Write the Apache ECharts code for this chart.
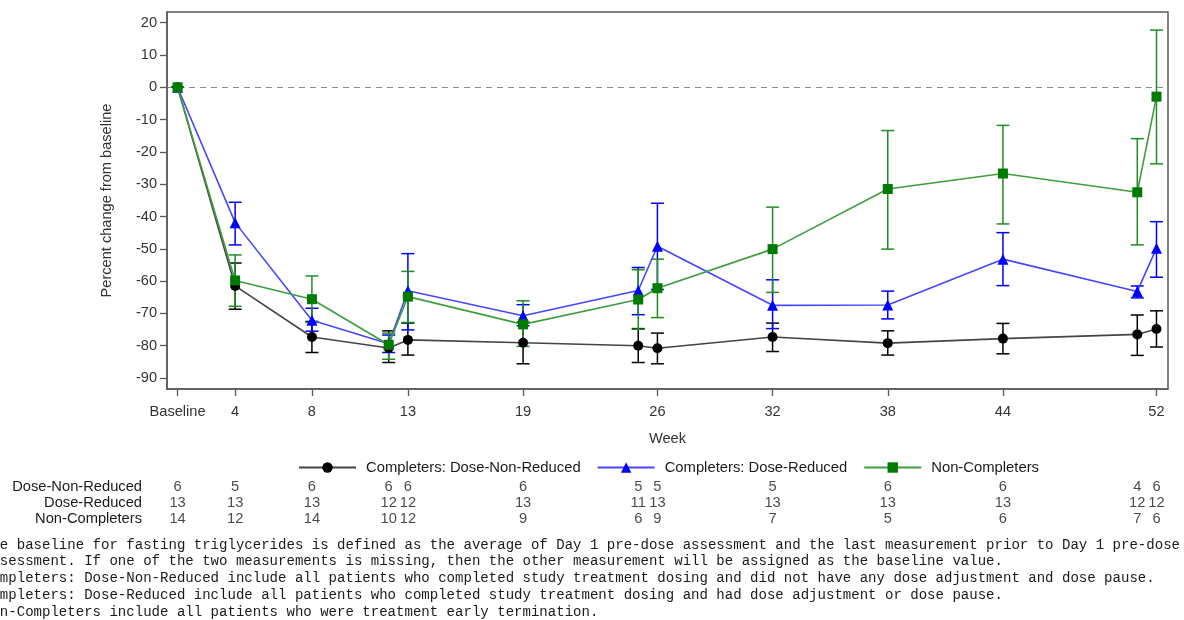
<!DOCTYPE html>
<html>
<head>
<meta charset="utf-8">
<script src="https://cdn.jsdelivr.net/npm/echarts@6/dist/echarts.min.js"></script>
<style>html,body{margin:0;padding:0;background:#fff;}#c{width:1184px;height:620px;}</style>
</head>
<body>
<div id="c"></div>
<script>
// ---- data ----
const weeks = [1, 4, 8, 12, 13, 19, 25, 26, 32, 38, 44, 51, 52];
const tickWeeks = [1, 4, 8, 13, 19, 26, 32, 38, 44, 52];
const tickLabels = ['Baseline', '4', '8', '13', '19', '26', '32', '38', '44', '52'];
const yTicks = [-90, -80, -70, -60, -50, -40, -30, -20, -10, 0, 10, 20];

const seriesNames = ['Completers: Dose-Non-Reduced', 'Completers: Dose-Reduced', 'Non-Completers'];

const nonRedMean = [0, -61.5, -77.3, -80.7, -78.2, -79.1, -80.0, -80.8, -77.3, -79.2, -77.8, -76.5, -74.8];
const nonRedLow  = [0, -68.7, -82.1, -85.2, -82.9, -85.6, -85.2, -85.6, -81.8, -82.9, -82.5, -83.0, -80.4];
const nonRedHigh = [0, -54.4, -72.5, -75.4, -73.0, -72.7, -74.7, -76.1, -73.0, -75.4, -73.1, -70.5, -69.2];

const redMean = [0, -41.9, -72.1, -79.4, -63.0, -70.7, -62.9, -49.2, -67.5, -67.4, -53.2, -63.2, -49.8];
const redLow  = [0, -48.8, -75.5, -82.1, -75.1, -73.8, -70.4, -62.6, -74.7, -71.7, -61.4, -65.2, -58.8];
const redHigh = [0, -35.6, -68.4, -76.7, -51.5, -67.3, -55.8, -35.9, -59.6, -63.1, -45.0, -61.5, -41.6];

const ncMean = [0, -59.8, -65.6, -79.7, -64.8, -73.4, -65.7, -62.2, -50.1, -31.5, -26.7, -32.5, -2.9];
const ncLow  = [0, -67.8, -72.8, -84.2, -72.8, -80.2, -74.9, -71.3, -63.5, -50.1, -42.3, -48.8, -23.7];
const ncHigh = [0, -51.9, -58.4, -76.1, -57.0, -66.1, -56.5, -53.2, -37.1, -13.4, -11.8, -15.9, 17.7];

const tableRows = ['Dose-Non-Reduced', 'Dose-Reduced', 'Non-Completers'];
const nNonRed = [6, 5, 6, 6, 6, 6, 5, 5, 5, 6, 6, 4, 6];
const nRed    = [13, 13, 13, 12, 12, 13, 11, 13, 13, 13, 13, 12, 12];
const nNC     = [14, 12, 14, 10, 12, 9, 6, 9, 7, 5, 6, 7, 6];

const footnotes = [
  'The baseline for fasting triglycerides is defined as the average of Day 1 pre-dose assessment and the last measurement prior to Day 1 pre-dose',
  'assessment. If one of the two measurements is missing, then the other measurement will be assigned as the baseline value.',
  'Completers: Dose-Non-Reduced include all patients who completed study treatment dosing and did not have any dose adjustment and dose pause.',
  'Completers: Dose-Reduced include all patients who completed study treatment dosing and had dose adjustment or dose pause.',
  'Non-Completers include all patients who were treatment early termination.'
];

// ---- chart ----
const FONT = '"Liberation Sans", Arial, sans-serif';
const chart = echarts.init(document.getElementById('c'), null, {renderer: 'canvas'});

function errBar(name, color, low, high) {
  return {
    type: 'custom',
    name: name + ' err',
    silent: true,
    z: 1,
    data: weeks.map((w, i) => [w, low[i], high[i]]),
    encode: {x: 0, y: [1, 2]},
    renderItem: function (params, api) {
      const x = api.value(0);
      const lo = api.coord([x, api.value(1)]);
      const hi = api.coord([x, api.value(2)]);
      const hw = 6.5;
      const st = {stroke: color, lineWidth: 1.5};
      return {
        type: 'group',
        children: [
          {type: 'line', shape: {x1: lo[0], y1: lo[1], x2: hi[0], y2: hi[1]}, style: st},
          {type: 'line', shape: {x1: lo[0] - hw, y1: lo[1], x2: lo[0] + hw, y2: lo[1]}, style: st},
          {type: 'line', shape: {x1: hi[0] - hw, y1: hi[1], x2: hi[0] + hw, y2: hi[1]}, style: st}
        ]
      };
    }
  };
}

function lineSeries(name, mean, sym, size, markColor, lineColor, z) {
  return {
    type: 'line',
    name: name,
    data: weeks.map((w, i) => [w, mean[i]]),
    symbol: sym,
    symbolSize: size,
    showAllSymbol: true,
    z: z,
    itemStyle: {color: markColor},
    lineStyle: {color: lineColor, width: 1.6},
    emphasis: {disabled: true},
    animation: false
  };
}

function tableSeries(row, counts) {
  return {
    type: 'scatter',
    name: 'table' + row,
    xAxisIndex: 1,
    yAxisIndex: 1,
    symbolSize: 1,
    itemStyle: {color: 'rgba(0,0,0,0)'},
    silent: true,
    data: weeks.map((w, i) => [w, row, counts[i]]),
    label: {
      show: true,
      position: 'inside',
      formatter: p => String(p.value[2]),
      color: '#1a1a1a',
      fontSize: 14.7,
      fontFamily: FONT
    },
    labelLayout: {hideOverlap: false}
  };
}

const nonRed = lineSeries(seriesNames[0], nonRedMean, 'circle', 10, '#000000', '#444444', 3);
nonRed.markLine = {
  silent: true,
  symbol: 'none',
  label: {show: false},
  lineStyle: {color: '#8a8a8a', type: [6, 5], width: 1},
  data: [{yAxis: 0}],
  z: 0
};

const option = {
  animation: false,
  backgroundColor: '#ffffff',
  textStyle: {fontFamily: FONT},
  grid: [
    {left: 167, right: 16, top: 12, bottom: 231, containLabel: false, outerBoundsMode: 'none',
     show: true, borderColor: '#5a5a5a', borderWidth: 1.5},
    {left: 167, right: 16, top: 479, height: 48, containLabel: false, outerBoundsMode: 'none'}
  ],
  legend: {
    data: seriesNames,
    left: 298,
    top: 460,
    padding: 0,
    itemWidth: 57,
    itemHeight: 13,
    itemGap: 16,
    textStyle: {fontSize: 14.8, color: '#1a1a1a', fontFamily: FONT, padding: [0, 0, 0, 5]},
    selectedMode: false
  },
  xAxis: [
    {
      type: 'value', gridIndex: 0, min: 0.45, max: 52.6,
      name: 'Week', nameLocation: 'middle', nameGap: 42,
      nameTextStyle: {fontSize: 14.6, color: '#333', fontFamily: FONT},
      axisLine: {show: true, onZero: false, lineStyle: {color: '#5a5a5a', width: 1.5}},
      axisTick: {show: true, length: 7, customValues: tickWeeks, lineStyle: {color: '#5a5a5a', width: 1.3}},
      axisLabel: {
        show: true, customValues: tickWeeks, margin: 15, fontSize: 14.6, color: '#333', fontFamily: FONT,
        formatter: v => tickLabels[tickWeeks.indexOf(v)]
      },
      splitLine: {show: false}
    },
    {
      type: 'value', gridIndex: 1, min: 0.45, max: 52.6, show: false,
      axisLine: {show: false}, axisTick: {show: false}, axisLabel: {show: false}, splitLine: {show: false}
    }
  ],
  yAxis: [
    {
      type: 'value', gridIndex: 0, min: -93.4, max: 23.3,
      name: 'Percent change from baseline', nameLocation: 'middle', nameGap: 53, nameRotate: 90,
      nameTextStyle: {fontSize: 14.6, color: '#333', fontFamily: FONT},
      axisLine: {show: true, onZero: false, lineStyle: {color: '#5a5a5a', width: 1.5}},
      axisTick: {show: true, length: 7, customValues: yTicks, lineStyle: {color: '#5a5a5a', width: 1.3}},
      axisLabel: {show: true, customValues: yTicks, margin: 10, fontSize: 14.6, color: '#333', fontFamily: FONT},
      splitLine: {show: false}
    },
    {
      type: 'category', gridIndex: 1, data: tableRows, inverse: true,
      axisLine: {show: false}, axisTick: {show: false}, splitLine: {show: false},
      axisLabel: {show: true, interval: 0, margin: 25, fontSize: 14.7, color: '#1a1a1a', fontFamily: FONT}
    }
  ],
  series: [
    errBar(seriesNames[0], '#000000', nonRedLow, nonRedHigh),
    errBar(seriesNames[1], '#0000ff', redLow, redHigh),
    errBar(seriesNames[2], '#218c21', ncLow, ncHigh),
    nonRed,
    lineSeries(seriesNames[1], redMean, 'triangle', 11, '#0000ff', '#4646ff', 4),
    lineSeries(seriesNames[2], ncMean, 'rect', 10, '#007a00', '#3e9e3e', 5),
    tableSeries(0, nNonRed),
    tableSeries(1, nRed),
    tableSeries(2, nNC)
  ],
  graphic: footnotes.map((t, i) => ({
    type: 'text',
    x: -17,
    y: 545 + i * 16.75,
    silent: true,
    style: {
      text: t,
      fontFamily: '"Liberation Mono", "Courier New", monospace',
      fontSize: 14.06,
      fill: '#1a1a1a',
      verticalAlign: 'middle',
      align: 'left'
    }
  }))
};

chart.setOption(option);
</script>
</body>
</html>
